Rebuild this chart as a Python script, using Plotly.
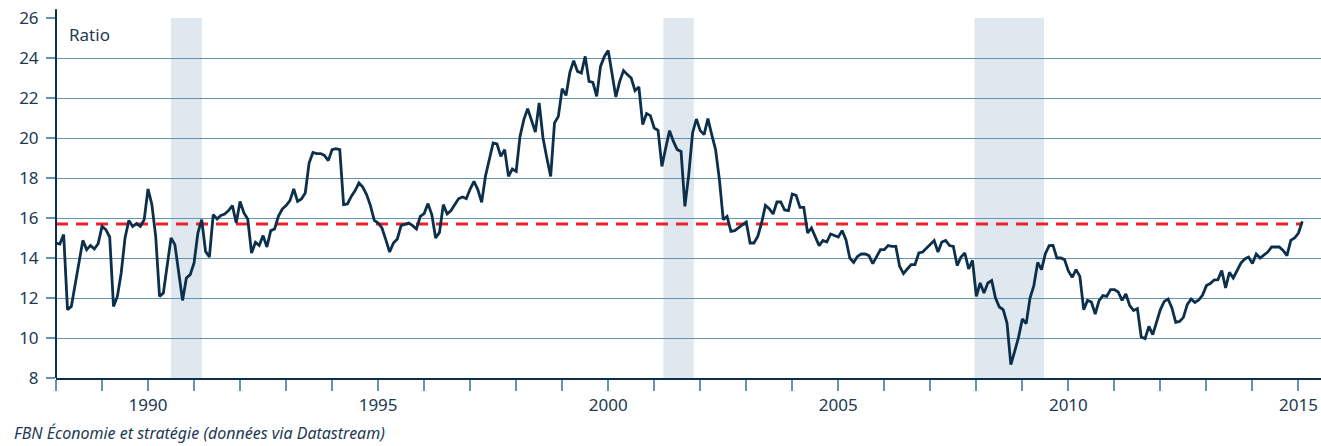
import plotly.graph_objects as go

# Monthly ratio, Jan 1988 .. Feb 2015
start_year = 1988
ratio = [
    14.75, 14.7, 15.17, 11.42, 11.58, 12.7, 13.8, 14.88, 14.42, 14.63, 14.45, 14.72,   # 1988
    15.58, 15.42, 15.05, 11.58, 12.08, 13.25, 15.0, 15.88, 15.58, 15.72, 15.58, 15.92,  # 1989
    17.45, 16.67, 15.08, 12.08, 12.25, 13.58, 15.0, 14.67, 13.25, 11.88, 13.0, 13.17,   # 1990
    13.75, 15.25, 15.92, 14.33, 14.05, 16.17, 15.95, 16.13, 16.2, 16.37, 16.62, 15.75,  # 1991
    16.83, 16.25, 15.95, 14.25, 14.78, 14.63, 15.12, 14.55, 15.37, 15.45, 16.08, 16.45, # 1992
    16.62, 16.87, 17.45, 16.83, 16.95, 17.25, 18.75, 19.28, 19.22, 19.22, 19.13, 18.87, # 1993
    19.42, 19.47, 19.42, 16.67, 16.7, 17.08, 17.37, 17.75, 17.55, 17.17, 16.62, 15.88,  # 1994
    15.75, 15.5, 14.92, 14.3, 14.75, 14.95, 15.62, 15.67, 15.75, 15.62, 15.45, 16.08,   # 1995
    16.22, 16.72, 16.17, 15.0, 15.28, 16.67, 16.2, 16.37, 16.67, 16.97, 17.05, 16.97,   # 1996
    17.45, 17.83, 17.42, 16.78, 18.1, 18.92, 19.75, 19.7, 19.08, 19.42, 18.08, 18.45,   # 1997
    18.33, 20.08, 20.92, 21.47, 20.83, 20.3, 21.75, 20.0, 19.0, 18.08, 20.75, 21.08,    # 1998
    22.47, 22.13, 23.28, 23.87, 23.33, 23.25, 24.08, 22.83, 22.78, 22.08, 23.58, 24.08, # 1999
    24.38, 23.25, 22.05, 22.83, 23.37, 23.17, 23.0, 22.37, 22.55, 20.67, 21.22, 21.12,  # 2000
    20.5, 20.38, 18.58, 19.5, 20.37, 19.83, 19.42, 19.33, 16.58, 18.17, 20.25, 20.95,   # 2001
    20.37, 20.17, 20.97, 20.17, 19.42, 17.92, 15.92, 16.08, 15.33, 15.37, 15.5, 15.67,  # 2002
    15.8, 14.75, 14.75, 15.08, 15.75, 16.63, 16.47, 16.2, 16.8, 16.8, 16.4, 16.37,      # 2003
    17.2, 17.13, 16.53, 16.53, 15.25, 15.5, 15.08, 14.62, 14.88, 14.8, 15.2, 15.12,     # 2004
    15.05, 15.37, 14.92, 14.0, 13.78, 14.08, 14.2, 14.2, 14.12, 13.72, 14.08, 14.42,    # 2005
    14.42, 14.62, 14.58, 14.58, 13.58, 13.22, 13.45, 13.67, 13.67, 14.25, 14.3, 14.5,   # 2006
    14.67, 14.87, 14.3, 14.8, 14.88, 14.62, 14.58, 13.62, 14.05, 14.25, 13.45, 13.88,   # 2007
    12.08, 12.75, 12.25, 12.75, 12.87, 12.0, 11.55, 11.42, 10.75, 8.67, 9.33, 10.03,    # 2008
    10.95, 10.72, 12.0, 12.62, 13.78, 13.42, 14.22, 14.62, 14.63, 14.0, 14.0, 13.92,    # 2009
    13.35, 13.03, 13.42, 13.08, 11.42, 11.88, 11.8, 11.2, 11.87, 12.12, 12.08, 12.42,   # 2010
    12.42, 12.3, 11.88, 12.2, 11.62, 11.38, 11.47, 10.05, 9.97, 10.58, 10.17, 10.75,    # 2011
    11.42, 11.83, 11.95, 11.5, 10.78, 10.83, 11.03, 11.67, 11.95, 11.78, 11.9, 12.15,   # 2012
    12.62, 12.72, 12.9, 12.92, 13.37, 12.5, 13.28, 13.0, 13.42, 13.75, 13.95, 14.05,    # 2013
    13.72, 14.2, 14.0, 14.13, 14.3, 14.55, 14.55, 14.55, 14.38, 14.12, 14.88, 15.0,     # 2014
    15.25, 15.83,                                                                       # 2015
]
dates = [start_year + i / 12 for i in range(len(ratio))]

average_ratio = 15.7
recessions = [(1990.5, 1991.17), (2001.2, 2001.86), (2007.96, 2009.47)]
year_ticks = list(range(1988, 2016))
year_labels = [str(y) if y % 5 == 0 else "" for y in year_ticks]
y_ticks = [8, 10, 12, 14, 16, 18, 20, 22, 24, 26]

navy = "#0c2f4b"
text_col = "#1d3954"
grid_col = "#6593b3"
band_col = "#dfe7ef"
red = "#e8242a"
font_family = "Noto Sans"

fig = go.Figure()
fig.add_trace(go.Scatter(
    x=[dates[0], dates[-1]], y=[average_ratio, average_ratio], mode="lines",
    line=dict(color=red, width=3, dash="12px,8px"), hoverinfo="skip", showlegend=False,
))
fig.add_trace(go.Scatter(
    x=dates, y=ratio, mode="lines",
    line=dict(color=navy, width=2.8), showlegend=False,
))

shapes = []
for a, b in recessions:
    shapes.append(dict(type="rect", xref="x", yref="paper", x0=a, x1=b, y0=0, y1=1,
                       fillcolor=band_col, line=dict(width=0), layer="below"))
shapes.append(dict(type="line", xref="paper", yref="paper", x0=0, x1=0, y0=0, y1=1.024,
                   line=dict(color=navy, width=2)))
fig.update_layout(shapes=shapes)

fig.update_layout(
    width=1321, height=446,
    margin=dict(l=56, r=0, t=18, b=68),
    paper_bgcolor="white", plot_bgcolor="white",
    font=dict(family=font_family, size=17, color=text_col),
    xaxis=dict(
        range=[1988, 2015.49], tickmode="array", tickvals=year_ticks, ticktext=year_labels,
        ticks="outside", ticklen=11, tickwidth=1.5, tickcolor=grid_col,
        showgrid=False, zeroline=False, showline=True, linecolor=navy, linewidth=2,
        tickfont=dict(size=17, color=text_col),
    ),
    yaxis=dict(
        range=[8, 26], tickmode="array", tickvals=y_ticks,
        ticks="outside", ticklen=9, tickwidth=1.5, tickcolor=grid_col,
        showgrid=True, gridcolor=grid_col, gridwidth=1.3, zeroline=False,
        showline=False, tickfont=dict(size=17, color=text_col), ticklabelstandoff=4,
    ),
    annotations=[
        dict(text="Ratio", xref="paper", yref="paper", x=(67 - 56) / 1265, y=(378.3 - 35) / 360,
             xanchor="left", yanchor="middle", showarrow=False,
             font=dict(size=17, color=text_col, family=font_family)),
        dict(text="<i>FBN Économie et stratégie (données via Datastream)</i>", xref="paper", yref="paper",
             x=(12 - 56) / 1265, y=(378.3 - 433.5) / 360, xanchor="left", yanchor="middle",
             showarrow=False, font=dict(size=16, color=text_col, family=font_family)),
    ],
)

fig.write_html("out.html", config={"displayModeBar": False},
               post_script="document.body.style.margin='0';document.body.style.overflow='hidden';")
